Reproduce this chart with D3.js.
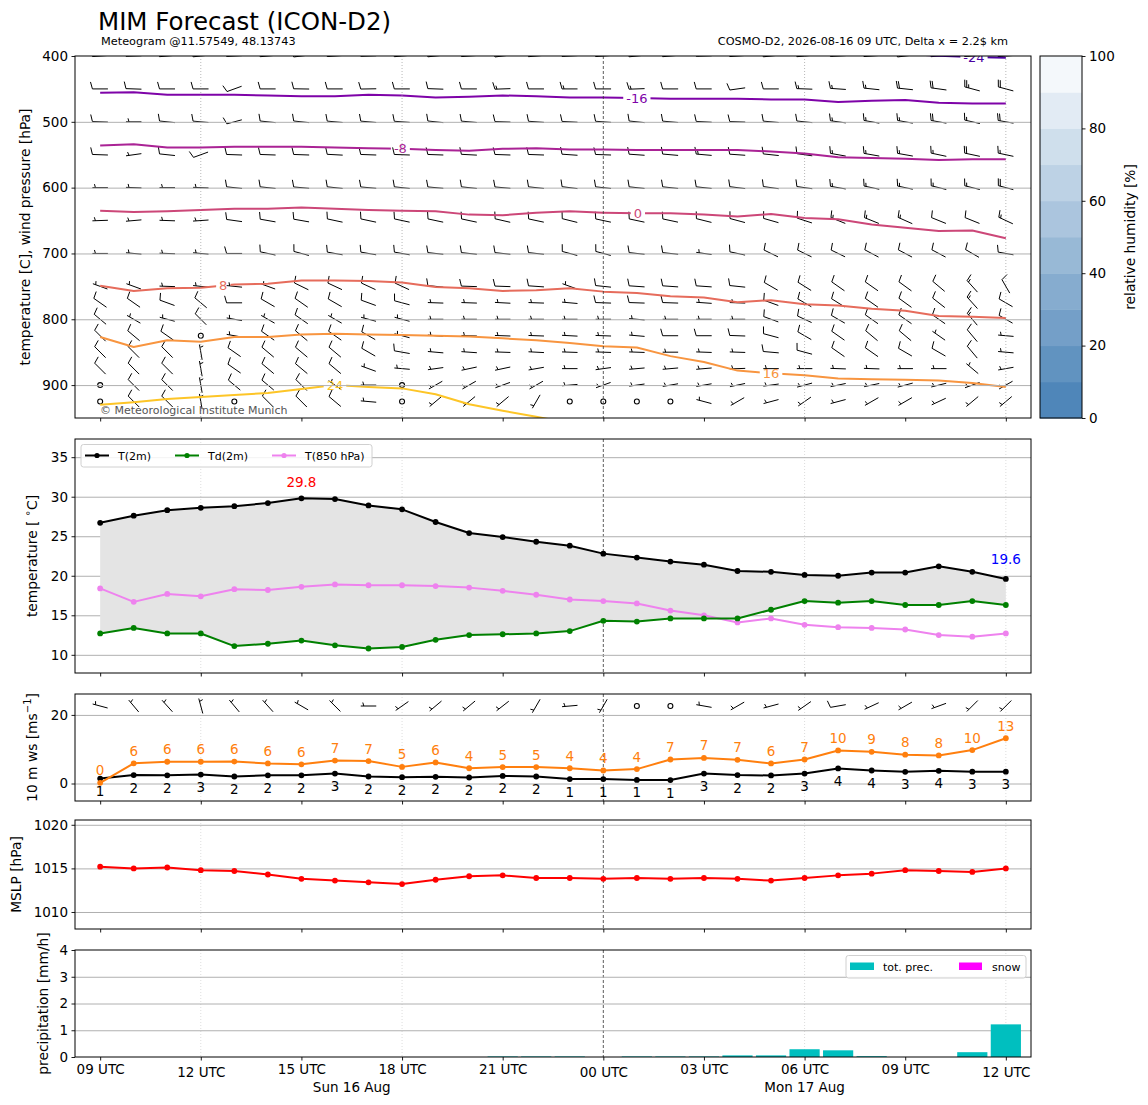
<!DOCTYPE html>
<html>
<head>
<meta charset="utf-8">
<title>MIM Forecast (ICON-D2)</title>
<script src="https://cdn.jsdelivr.net/npm/d3@7/dist/d3.min.js"></script>
<style>
html,body{margin:0;padding:0;background:#fff;}
svg text{font-family:"DejaVu Sans",Verdana,sans-serif;}
</style>
</head>
<body>
<svg id="chart" width="1148" height="1105" xmlns="http://www.w3.org/2000/svg"></svg>
<script>
// ================= DATA =================
const startUTC = "2026-08-16T09:00:00Z";
const forecastHours = [0,1,2,3,4,5,6,7,8,9,10,11,12,13,14,15,16,17,18,19,20,21,22,23,24,25,26,27];

// 2 m temperature, dew point, 850 hPa temperature [°C]
const t2m  = [26.7,27.6,28.3,28.6,28.8,29.2,29.8,29.7,28.9,28.4,26.8,25.4,24.9,24.3,23.8,22.8,22.3,21.8,21.4,20.6,20.5,20.1,20.0,20.4,20.4,21.2,20.5,19.6];
const td2m = [12.7,13.4,12.7,12.7,11.1,11.4,11.8,11.2,10.8,11.0,11.9,12.5,12.6,12.7,13.0,14.3,14.2,14.6,14.6,14.6,15.7,16.8,16.6,16.8,16.3,16.3,16.8,16.3];
const t850 = [18.4,16.7,17.7,17.4,18.3,18.2,18.6,18.9,18.8,18.8,18.7,18.5,18.1,17.6,17.0,16.8,16.5,15.6,15.0,14.1,14.6,13.8,13.5,13.4,13.2,12.5,12.3,12.7];

// 10 m wind speed and gusts [m/s], 10 m wind direction [deg]
const ws10   = [1.45,2.45,2.4,2.6,2.05,2.4,2.4,2.9,2.05,1.85,1.95,1.75,2.2,2.05,1.3,1.3,1.05,1.0,2.9,2.45,2.35,2.9,4.4,3.8,3.4,3.7,3.45,3.45];
const gust10 = [0.2,5.9,6.35,6.35,6.4,5.85,5.6,6.7,6.55,4.85,6.15,4.45,4.8,4.8,4.45,3.8,4.2,7.0,7.45,6.9,5.85,7.0,9.65,9.25,8.4,8.2,9.75,13.2];
const dir10  = [285,320,318,345,320,318,300,315,270,235,230,230,232,210,265,210,0,0,280,240,255,235,260,245,240,250,225,225];

// mean sea level pressure [hPa]
const mslp = [1015.2,1015.0,1015.1,1014.8,1014.7,1014.3,1013.8,1013.6,1013.4,1013.2,1013.7,1014.1,1014.2,1013.9,1013.9,1013.8,1013.9,1013.8,1013.9,1013.8,1013.6,1013.9,1014.2,1014.4,1014.8,1014.7,1014.6,1015.0];

// precipitation [mm/h]
const totPrec = [0,0,0,0,0,0,0,0,0,0,0,0,0.02,0.02,0.02,0,0.02,0.02,0.02,0.06,0.06,0.29,0.25,0.03,0,0,0.18,1.22];
const snowPrec = [0,0,0,0,0,0,0,0,0,0,0,0,0,0,0,0,0,0,0,0,0,0,0,0,0,0,0,0];

// wind profile: pressure levels, direction [deg] and speed [kt]
const levels = [400,450,500,550,600,650,700,750,775,800,825,850,875,900,925];
const dir400 = [266,268,265,264,267,265,263,266,268,265,264,266,263,265,267,266,264,265,268,266,264,265,267,266,263,265,267,266];
const spd400 = [15,15,15,15,15,15,15,15,15,15,15,15,15,15,15,15,15,15,20,20,15,20,20,20,20,20,25,25];
const dir450 = [270,272,270,270,250,270,271,270,269,270,272,270,268,270,270,270,268,270,270,262,270,272,274,276,276,278,285,285];
const spd450 = [10,10,10,10,10,10,10,10,10,10,10,10,15,10,15,10,15,10,10,10,10,15,15,15,20,20,25,20];
const dir500 = [272,270,276,275,255,276,276,275,275,274,276,275,272,274,273,274,276,275,273,272,275,276,278,280,280,280,283,280];
const spd500 = [10,5,10,10,10,10,10,10,10,10,10,10,10,10,10,10,10,10,10,10,10,10,15,15,15,20,15,20];
const dir550 = [272,262,276,250,272,272,272,273,272,272,272,273,272,272,274,272,274,275,275,274,276,278,280,280,280,282,282,282];
const spd550 = [10,5,10,10,10,10,10,10,10,10,10,10,10,10,10,10,10,10,15,10,10,10,15,15,15,15,20,15];
const dir600 = [270,272,270,272,276,276,275,276,275,276,275,276,275,276,277,276,276,276,276,277,278,278,280,282,282,284,284,285];
const spd600 = [5,5,5,5,10,10,10,10,10,10,10,10,10,10,10,10,10,10,10,10,10,10,15,15,15,15,15,20];
const dir650 = [268,265,272,266,278,280,280,282,282,282,282,282,283,282,284,282,282,282,284,285,286,288,292,292,294,292,292,295];
const spd650 = [5,5,5,5,10,10,10,10,10,10,10,10,10,10,10,10,10,10,10,10,10,10,15,15,15,10,10,15];
const dir700 = [270,275,272,275,270,282,285,280,280,280,276,276,276,276,285,285,276,276,278,282,296,296,296,298,298,298,300,280];
const spd700 = [5,5,5,5,10,10,10,10,10,10,10,10,10,10,10,10,10,10,5,10,10,10,10,10,10,10,10,10];
const dir750 = [290,290,272,276,276,290,296,295,295,295,276,272,272,274,290,276,274,274,274,276,300,302,305,305,306,310,318,330];
const spd750 = [5,5,5,5,5,5,10,10,10,10,10,10,10,10,5,10,10,10,10,10,10,10,10,10,10,10,15,10];
const dir775 = [305,305,290,310,270,300,305,300,290,285,272,272,273,272,275,272,272,272,274,272,290,300,302,305,306,308,318,300];
const spd775 = [10,10,10,10,10,10,10,10,10,10,5,5,5,5,5,10,10,10,5,5,10,10,10,10,10,10,15,10];
const dir800 = [310,300,285,315,280,300,305,300,285,285,270,270,270,270,270,270,275,270,270,270,290,295,300,305,305,305,320,300];
const spd800 = [10,5,5,10,5,5,10,5,5,5,5,5,5,5,5,5,5,5,5,5,10,10,10,10,10,10,15,10];
const dir825 = [315,310,305,0,280,305,310,305,300,285,275,272,272,272,273,272,275,270,270,272,285,300,305,310,310,305,320,275];
const spd825 = [10,10,10,0,5,10,10,10,10,5,5,5,5,5,5,5,5,10,10,10,10,10,10,10,10,5,10,5];
const dir850 = [315,315,315,350,305,310,310,310,300,280,275,274,272,273,272,272,272,270,272,272,275,285,305,305,300,300,320,275];
const spd850 = [10,10,10,5,10,10,10,10,10,10,5,5,5,5,5,5,5,5,5,5,10,10,10,10,10,10,10,5];
const dir875 = [315,315,315,350,305,310,310,310,290,275,262,258,258,260,270,262,265,265,265,268,270,270,272,272,270,270,310,260];
const spd875 = [10,10,10,5,10,10,10,10,5,5,5,5,5,5,5,5,5,5,5,5,5,5,5,5,5,5,5,5];
const dir900 = [0,315,315,350,310,310,315,305,270,0,240,240,250,240,265,250,262,260,260,258,262,255,258,258,255,256,250,240];
const spd900 = [0,10,10,5,10,10,10,5,5,0,5,5,5,5,5,5,5,5,5,5,5,5,5,5,5,5,5,5];
const dir925 = [0,315,315,350,0,315,315,310,275,0,230,230,230,210,0,0,0,0,285,240,255,235,255,240,240,245,230,230];
const spd925 = [0,10,10,5,0,10,10,10,5,0,5,5,5,5,0,0,0,0,5,5,5,5,5,5,5,5,5,5];

// isotherms: pressure [hPa] at which the temperature equals the level value
const isoValues = [-24,-16,-8,0,8,16,24];
const isoM24 = [null,null,null,null,null,null,null,null,null,null,null,null,null,null,null,null,null,null,null,null,null,null,null,394,397,399.5,401.5,402.5];
const isoM16 = [456,455,459,459,459,460,461,461,459,460,463,462,460,461,463,463,464,465,465,465,466,466,470,468,467,471,472,472];
const isoM8  = [536,534,539,539,538,538,538,539,540,541,543,544,541,540,542,542,543,543,543,543,545,548,554,555,556,558,557,557];
const iso0   = [635,637,636,634,632,632,630,632,634,635,636,641,642,638,636,638,639,639,641,644,640,646,648,656,661,666,665,677];
const iso8   = [749,757,753,752,747,746,741,741,742,744,751,753,757,756,753,758,760,765,767,774,771,777,779,784,787,795,796,798];
const iso16  = [827,842,832,834,827,827,823,822,823,824,825,826,829,832,836,841,843,856,865,878,882,885,890,891,892,893,897,903];
const iso24  = [930,926,921,918,915,912,906,900,903,905,914,929,939,948,958,null,null,null,null,null,null,null,null,null,null,null,null,null];

// colour bar levels [%]
const rhLevels = [0,10,20,30,40,50,60,70,80,90,100];

// ================= SETUP =================
const svg = d3.select('#chart');
const W = 1148, H = 1105;
const HOUR = 3600e3;
const t0 = new Date(startUTC).getTime();
const times = forecastHours.map(h => new Date(t0 + h * HOUR));
const L = 75, R = 1031;
const x = d3.scaleUtc()
  .domain([new Date(t0 - 0.75 * HOUR), new Date(t0 + 27.75 * HOUR)])
  .range([L, R]);
const xi = i => x(times[0].getTime() + i * HOUR);

const P1 = {top:56, bottom:418}, P2 = {top:439, bottom:673}, P3 = {top:694, bottom:801},
      P4 = {top:820, bottom:929}, P5 = {top:950, bottom:1057};

const yP = d3.scaleLinear().domain([400, 950]).range([P1.top, P1.bottom]);
const yT = d3.scaleLinear().domain([7.7, 37.3]).range([P2.bottom, P2.top]);
const yW = d3.scaleLinear().domain([-5.1, 26.1]).range([P3.bottom, P3.top]);
const yM = d3.scaleLinear().domain([1008.05, 1020.55]).range([P4.bottom, P4.top]);
const yR = d3.scaleLinear().domain([0, 4]).range([P5.bottom, P5.top]);

const TICK_FS = 13.5, LABEL_FS = 13.8;
const GRID = '#b0b0b0';

const defs = svg.append('defs');
defs.append('clipPath').attr('id', 'clipTop').append('rect')
  .attr('x', L).attr('y', P1.top).attr('width', R - L).attr('height', P1.bottom - P1.top);

svg.append('rect').attr('width', W).attr('height', H).attr('fill', '#fff');

const tick3 = x.ticks(d3.utcHour.every(3));
const tick6 = x.ticks(d3.utcHour.every(6));

function panelGrid(P, yScale, yTicks, dottedTop) {
  const g = svg.append('g');
  g.selectAll('line.v').data(tick6).join('line')
    .attr('x1', d => x(d)).attr('x2', d => x(d))
    .attr('y1', P.top).attr('y2', P.bottom)
    .attr('stroke', d => d.getUTCHours() === 0 ? '#333' : (dottedTop ? '#999' : '#cfcfcf'))
    .attr('stroke-width', d => d.getUTCHours() === 0 ? 0.8 : 0.7)
    .attr('stroke-dasharray', d => d.getUTCHours() === 0 ? '3,2' : '1,2');
  g.append('g').attr('transform', `translate(${L},0)`)
    .call(d3.axisLeft(yScale).tickValues(yTicks).tickSize(-(R - L)).tickFormat(''))
    .call(a => a.select('.domain').remove())
    .call(a => a.selectAll('line').attr('stroke', GRID).attr('stroke-width', 1));
  return g;
}

function panelAxes(P, yScale, yTicks, fmt, showX) {
  const gy = svg.append('g').attr('transform', `translate(${L},0)`)
    .call(d3.axisLeft(yScale).tickValues(yTicks).tickSize(3.5).tickPadding(3.5).tickFormat(fmt));
  gy.select('.domain').remove();
  gy.selectAll('line').attr('stroke', '#000').attr('stroke-width', 0.9);
  gy.selectAll('text').attr('font-size', TICK_FS).attr('fill', '#000')
    .attr('font-family', '"DejaVu Sans",sans-serif');
  const gx = svg.append('g').attr('transform', `translate(0,${P.bottom})`)
    .call(d3.axisBottom(x).tickValues(tick3).tickSize(3.5).tickPadding(3)
      .tickFormat(showX ? d3.utcFormat('%H UTC') : ''));
  gx.select('.domain').remove();
  gx.selectAll('line').attr('stroke', '#000').attr('stroke-width', 0.9);
  gx.selectAll('text').attr('font-size', TICK_FS).attr('fill', '#000')
    .attr('font-family', '"DejaVu Sans",sans-serif')
    .attr('dy', d => (d.getUTCHours() % 12 === 0) ? '0.98em' : '0.8em');
  svg.append('rect').attr('x', L).attr('y', P.top).attr('width', R - L).attr('height', P.bottom - P.top)
    .attr('fill', 'none').attr('stroke', '#000').attr('stroke-width', 1);
}

function yLabel(txt, cx, cy) {
  const t = svg.append('text').attr('transform', `translate(${cx},${cy}) rotate(-90)`)
    .attr('text-anchor', 'middle').attr('dominant-baseline', 'central')
    .attr('font-size', LABEL_FS).attr('fill', '#000');
  if (typeof txt === 'string') t.text(txt);
  else txt(t);
  return t;
}

// barb geometry (matplotlib-like, pivot = middle)
function barbGeom(cx, cy, dir, spd, len) {
  const mag = 5 * Math.round(spd / 5);
  if (mag < 5) return {calm: true, r: 0.16 * len};
  const nflag = Math.floor(mag / 50);
  const rest = mag - 50 * nflag;
  const nbarb = Math.floor(rest / 10);
  const half = rest - 10 * nbarb >= 5;
  const rad = dir * Math.PI / 180;
  const u = -Math.sin(rad), v = -Math.cos(rad);
  const phi = Math.atan2(v, u) + Math.PI / 2;
  const c = Math.cos(phi), s = Math.sin(phi);
  const Pt = (px, py) => [cx + px * c - py * s, cy - (px * s + py * c)];
  const f = p => p[0].toFixed(2) + ',' + p[1].toFixed(2);
  const endy = -len / 2, hgt = 0.45 * len, wid = 0.25 * len, sp = 0.13 * len;
  let d = 'M' + f(Pt(0, endy)) + 'L' + f(Pt(0, endy + len));
  let flags = '';
  let off = len;
  for (let k = 0; k < nflag; k++) {
    flags += 'M' + f(Pt(0, endy + off)) + 'L' + f(Pt(hgt, endy + off - wid / 2)) + 'L' + f(Pt(0, endy + off - wid)) + 'Z';
    off -= wid + sp;
  }
  for (let k = 0; k < nbarb; k++) {
    d += 'M' + f(Pt(0, endy + off)) + 'L' + f(Pt(hgt, endy + off + wid / 2));
    off -= sp;
  }
  if (half) {
    if (off === len) off -= 1.5 * sp;
    d += 'M' + f(Pt(0, endy + off)) + 'L' + f(Pt(hgt / 2, endy + off + wid / 4));
  }
  return {calm: false, d, flags};
}

function drawBarb(g, cx, cy, dir, spd, len) {
  const b = barbGeom(cx, cy, dir, spd, len);
  if (b.calm) {
    g.append('circle').attr('cx', cx).attr('cy', cy).attr('r', b.r)
      .attr('fill', 'none').attr('stroke', '#000').attr('stroke-width', 1.1);
  } else {
    g.append('path').attr('d', b.d).attr('fill', 'none').attr('stroke', '#000')
      .attr('stroke-width', 1.0).attr('stroke-linecap', 'butt');
    if (b.flags) g.append('path').attr('d', b.flags).attr('fill', '#000');
  }
}

// ================= TITLES =================
svg.append('text').attr('x', 98).attr('y', 29.5).attr('font-size', 24.5).text('MIM Forecast (ICON-D2)');
svg.append('text').attr('x', 101).attr('y', 45).attr('font-size', 11.3).text('Meteogram @11.57549, 48.13743');
svg.append('text').attr('x', 1008).attr('y', 45).attr('font-size', 11.3).attr('text-anchor', 'end')
  .text('COSMO-D2, 2026-08-16 09 UTC, Delta x = 2.2$ km');

// ================= PANEL 1: wind profile + isotherms =================
const dirs = [dir400,dir450,dir500,dir550,dir600,dir650,dir700,dir750,dir775,dir800,dir825,dir850,dir875,dir900,dir925];
const spds = [spd400,spd450,spd500,spd550,spd600,spd650,spd700,spd750,spd775,spd800,spd825,spd850,spd875,spd900,spd925];
const barbTable = levels.flatMap((p, li) => forecastHours.map((h, i) => ({p, i, dir: dirs[li][i], spd: spds[li][i]})));

const g1 = svg.append('g').attr('clip-path', 'url(#clipTop)');
const gb = g1.append('g');
barbTable.forEach(b => drawBarb(gb, xi(b.i), yP(b.p), b.dir, b.spd, 15.5));

panelGrid(P1, yP, [500,600,700,800,900], true).attr('clip-path', 'url(#clipTop)');

// isotherms
const isoSeries = [isoM24, isoM16, isoM8, iso0, iso8, iso16, iso24];
const isoLabelAt = [26.05, 16.0, 8.95, 16.03, 3.67, 20.0, 7.0];
const isoColor = v => d3.interpolatePlasma(0.5 + v / 64);
const mask = defs.append('mask').attr('id', 'isoMask').attr('maskUnits', 'userSpaceOnUse')
  .attr('x', 0).attr('y', 0).attr('width', W).attr('height', H);
mask.append('rect').attr('x', 0).attr('y', 0).attr('width', W).attr('height', H).attr('fill', '#fff');

const gIsoLines = g1.append('g').attr('mask', 'url(#isoMask)');
const gIsoLabels = g1.append('g');
const isoLine = d3.line().defined(d => d != null).x((d, i) => xi(i)).y(d => yP(d));
isoValues.forEach((v, k) => {
  const ser = isoSeries[k];
  gIsoLines.append('path').attr('d', isoLine(ser)).attr('fill', 'none')
    .attr('stroke', isoColor(v)).attr('stroke-width', 2).attr('stroke-linejoin', 'round');
  const li = isoLabelAt[k];
  const i0 = Math.floor(li), i1 = Math.min(i0 + 1, ser.length - 1);
  const a = ser[i0], b = ser[i1] == null ? a : ser[i1];
  const p = a + (b - a) * (li - i0);
  const tx = xi(li), ty = yP(p);
  const t = gIsoLabels.append('text').attr('x', tx).attr('y', ty)
    .attr('text-anchor', 'middle').attr('dominant-baseline', 'central')
    .attr('font-size', 13).attr('fill', isoColor(v)).text(String(v));
  const bb = t.node().getBBox();
  mask.append('rect').attr('x', bb.x - 3).attr('y', bb.y).attr('width', bb.width + 6).attr('height', bb.height)
    .attr('fill', '#000');
});

svg.append('text').attr('x', 100).attr('y', 414).attr('font-size', 11).attr('fill', '#555')
  .text('© Meteorological Institute Munich');

panelAxes(P1, yP, [400,500,600,700,800,900], d3.format('d'), false);
yLabel('temperature [C], wind pressure [hPa]', 25, (P1.top + P1.bottom) / 2);

// colour bar
const CB = {x0: 1040, x1: 1082};
const yC = d3.scaleLinear().domain([0, 100]).range([P1.bottom, P1.top]);
const cbColor = d3.interpolateRgb('#4f86b9', '#f4f8fb');
const gcb = svg.append('g');
gcb.selectAll('rect').data(d3.pairs(rhLevels)).join('rect')
  .attr('x', CB.x0).attr('width', CB.x1 - CB.x0)
  .attr('y', d => yC(d[1])).attr('height', d => yC(d[0]) - yC(d[1]) + 0.5)
  .attr('fill', (d, i) => cbColor(i / (rhLevels.length - 2)));
svg.append('rect').attr('x', CB.x0).attr('y', P1.top).attr('width', CB.x1 - CB.x0).attr('height', P1.bottom - P1.top)
  .attr('fill', 'none').attr('stroke', '#000').attr('stroke-width', 1);
const gcba = svg.append('g').attr('transform', `translate(${CB.x1},0)`)
  .call(d3.axisRight(yC).tickValues([0,20,40,60,80,100]).tickSize(3.5).tickPadding(3.5));
gcba.select('.domain').remove();
gcba.selectAll('line').attr('stroke', '#000').attr('stroke-width', 0.9);
gcba.selectAll('text').attr('font-size', TICK_FS).attr('fill', '#000').attr('font-family', '"DejaVu Sans",sans-serif');
yLabel('relative humidity [%]', 1130, (P1.top + P1.bottom) / 2);

// ================= PANEL 2: temperatures =================
panelGrid(P2, yT, [10,15,20,25,30,35], false);
const g2 = svg.append('g');
g2.append('path').datum(forecastHours)
  .attr('d', d3.area().x(i => xi(i)).y0(i => yT(td2m[i])).y1(i => yT(t2m[i])))
  .attr('fill', '#e4e4e4');
function seriesLine(g, data, yS, color, r, width) {
  g.append('path').attr('d', d3.line().x((d, i) => xi(i)).y(d => yS(d))(data))
    .attr('fill', 'none').attr('stroke', color).attr('stroke-width', width || 2).attr('stroke-linejoin', 'round');
  g.append('g').selectAll('circle').data(data).join('circle')
    .attr('cx', (d, i) => xi(i)).attr('cy', d => yS(d)).attr('r', r || 2.9).attr('fill', color);
}
seriesLine(g2, t850, yT, '#ee82ee');
seriesLine(g2, td2m, yT, '#008000');
seriesLine(g2, t2m, yT, '#000000');
const iMax = d3.maxIndex(t2m);
g2.append('text').attr('x', xi(iMax)).attr('y', yT(t2m[iMax]) - 11).attr('text-anchor', 'middle')
  .attr('font-size', 13.5).attr('fill', '#ff0000').text(d3.format('.1f')(t2m[iMax]));
const iLast = t2m.length - 1;
g2.append('text').attr('x', xi(iLast)).attr('y', yT(t2m[iLast]) - 15).attr('text-anchor', 'middle')
  .attr('font-size', 13.5).attr('fill', '#0000ff').text(d3.format('.1f')(t2m[iLast]));
// legend
const lg = svg.append('g');
lg.append('rect').attr('x', 81).attr('y', 444.5).attr('width', 291).attr('height', 22.5).attr('rx', 2.5)
  .attr('fill', '#fff').attr('fill-opacity', 0.85).attr('stroke', '#d0d0d0').attr('stroke-width', 1);
[['T(2m)', '#000000', 85], ['Td(2m)', '#008000', 175], ['T(850 hPa)', '#ee82ee', 272]].forEach(([lab, col, lx]) => {
  lg.append('line').attr('x1', lx).attr('x2', lx + 24).attr('y1', 455.5).attr('y2', 455.5)
    .attr('stroke', col).attr('stroke-width', 2);
  lg.append('circle').attr('cx', lx + 12).attr('cy', 455.5).attr('r', 2.6).attr('fill', col);
  lg.append('text').attr('x', lx + 33).attr('y', 459.5).attr('font-size', 11).text(lab);
});
panelAxes(P2, yT, [10,15,20,25,30,35], d3.format('d'), false);
yLabel(t => { t.text('temperature [ '); t.append('tspan').attr('dy', -5).attr('font-size', 10).text('∘');
  t.append('tspan').attr('dy', 5).text('C]'); }, 32, (P2.top + P2.bottom) / 2);

// ================= PANEL 3: 10 m wind =================
panelGrid(P3, yW, [0, 20], false);
const g3 = svg.append('g');
seriesLine(g3, ws10, yW, '#000000');
seriesLine(g3, gust10, yW, '#ff7f0e');
g3.append('g').selectAll('text').data(gust10).join('text')
  .attr('x', (d, i) => xi(i)).attr('y', d => yW(d) - 7.5).attr('text-anchor', 'middle')
  .attr('font-size', 13.5).attr('fill', '#ff7f0e').text(d => Math.round(d));
g3.append('g').selectAll('text').data(ws10).join('text')
  .attr('x', (d, i) => xi(i)).attr('y', d => yW(d) + 17.5).attr('text-anchor', 'middle')
  .attr('font-size', 13.5).attr('fill', '#000').text(d => Math.round(d));
const gb3 = g3.append('g');
ws10.forEach((s, i) => drawBarb(gb3, xi(i), yW(22.6), dir10[i], s * 1.94384, 15.5));
panelAxes(P3, yW, [0, 20], d3.format('d'), false);
yLabel(t => { t.text('10 m ws [ms'); t.append('tspan').attr('dy', -5).attr('font-size', 10).text('−1');
  t.append('tspan').attr('dy', 5).text(']'); }, 32, (P3.top + P3.bottom) / 2);

// ================= PANEL 4: MSLP =================
panelGrid(P4, yM, [1010, 1015, 1020], false);
const g4 = svg.append('g');
seriesLine(g4, mslp, yM, '#ff0000');
panelAxes(P4, yM, [1010, 1015, 1020], d3.format('d'), false);
yLabel('MSLP [hPa]', 16, (P4.top + P4.bottom) / 2);

// ================= PANEL 5: precipitation =================
panelGrid(P5, yR, [1, 2, 3], false);
const g5 = svg.append('g');
const barW = x(t0 + 0.45 * HOUR) - x(t0 - 0.45 * HOUR);
g5.selectAll('rect.tp').data(totPrec).join('rect')
  .attr('x', (d, i) => xi(i) - barW / 2).attr('width', barW)
  .attr('y', d => yR(d)).attr('height', d => yR(0) - yR(d)).attr('fill', '#00bfbf');
g5.selectAll('rect.sn').data(snowPrec.filter(d => d > 0)).join('rect')
  .attr('fill', '#ff00ff');
const lg5 = svg.append('g');
lg5.append('rect').attr('x', 846).attr('y', 955.5).attr('width', 180).attr('height', 22.5).attr('rx', 2.5)
  .attr('fill', '#fff').attr('fill-opacity', 0.85).attr('stroke', '#d0d0d0');
lg5.append('rect').attr('x', 850).attr('y', 962.5).attr('width', 24).attr('height', 7.5).attr('fill', '#00bfbf');
lg5.append('text').attr('x', 883).attr('y', 970.5).attr('font-size', 11).text('tot. prec.');
lg5.append('rect').attr('x', 959).attr('y', 962.5).attr('width', 23).attr('height', 7.5).attr('fill', '#ff00ff');
lg5.append('text').attr('x', 992).attr('y', 970.5).attr('font-size', 11).text('snow');
panelAxes(P5, yR, [0, 1, 2, 3, 4], d3.format('d'), true);
yLabel('precipitation [mm/h]', 43, (P5.top + P5.bottom) / 2);

// day labels centred on each day's portion of the forecast
const first = times[0], last = times[times.length - 1];
const midnight = d3.utcDay.ceil(first);
const dayMids = [new Date((first.getTime() + midnight.getTime()) / 2), new Date((midnight.getTime() + last.getTime()) / 2)];
svg.append('g').selectAll('text').data(dayMids).join('text')
  .attr('x', d => x(d)).attr('y', 1092).attr('text-anchor', 'middle')
  .attr('font-size', TICK_FS).text(d => d3.utcFormat('%a %d %b')(d));
</script>
</body>
</html>
